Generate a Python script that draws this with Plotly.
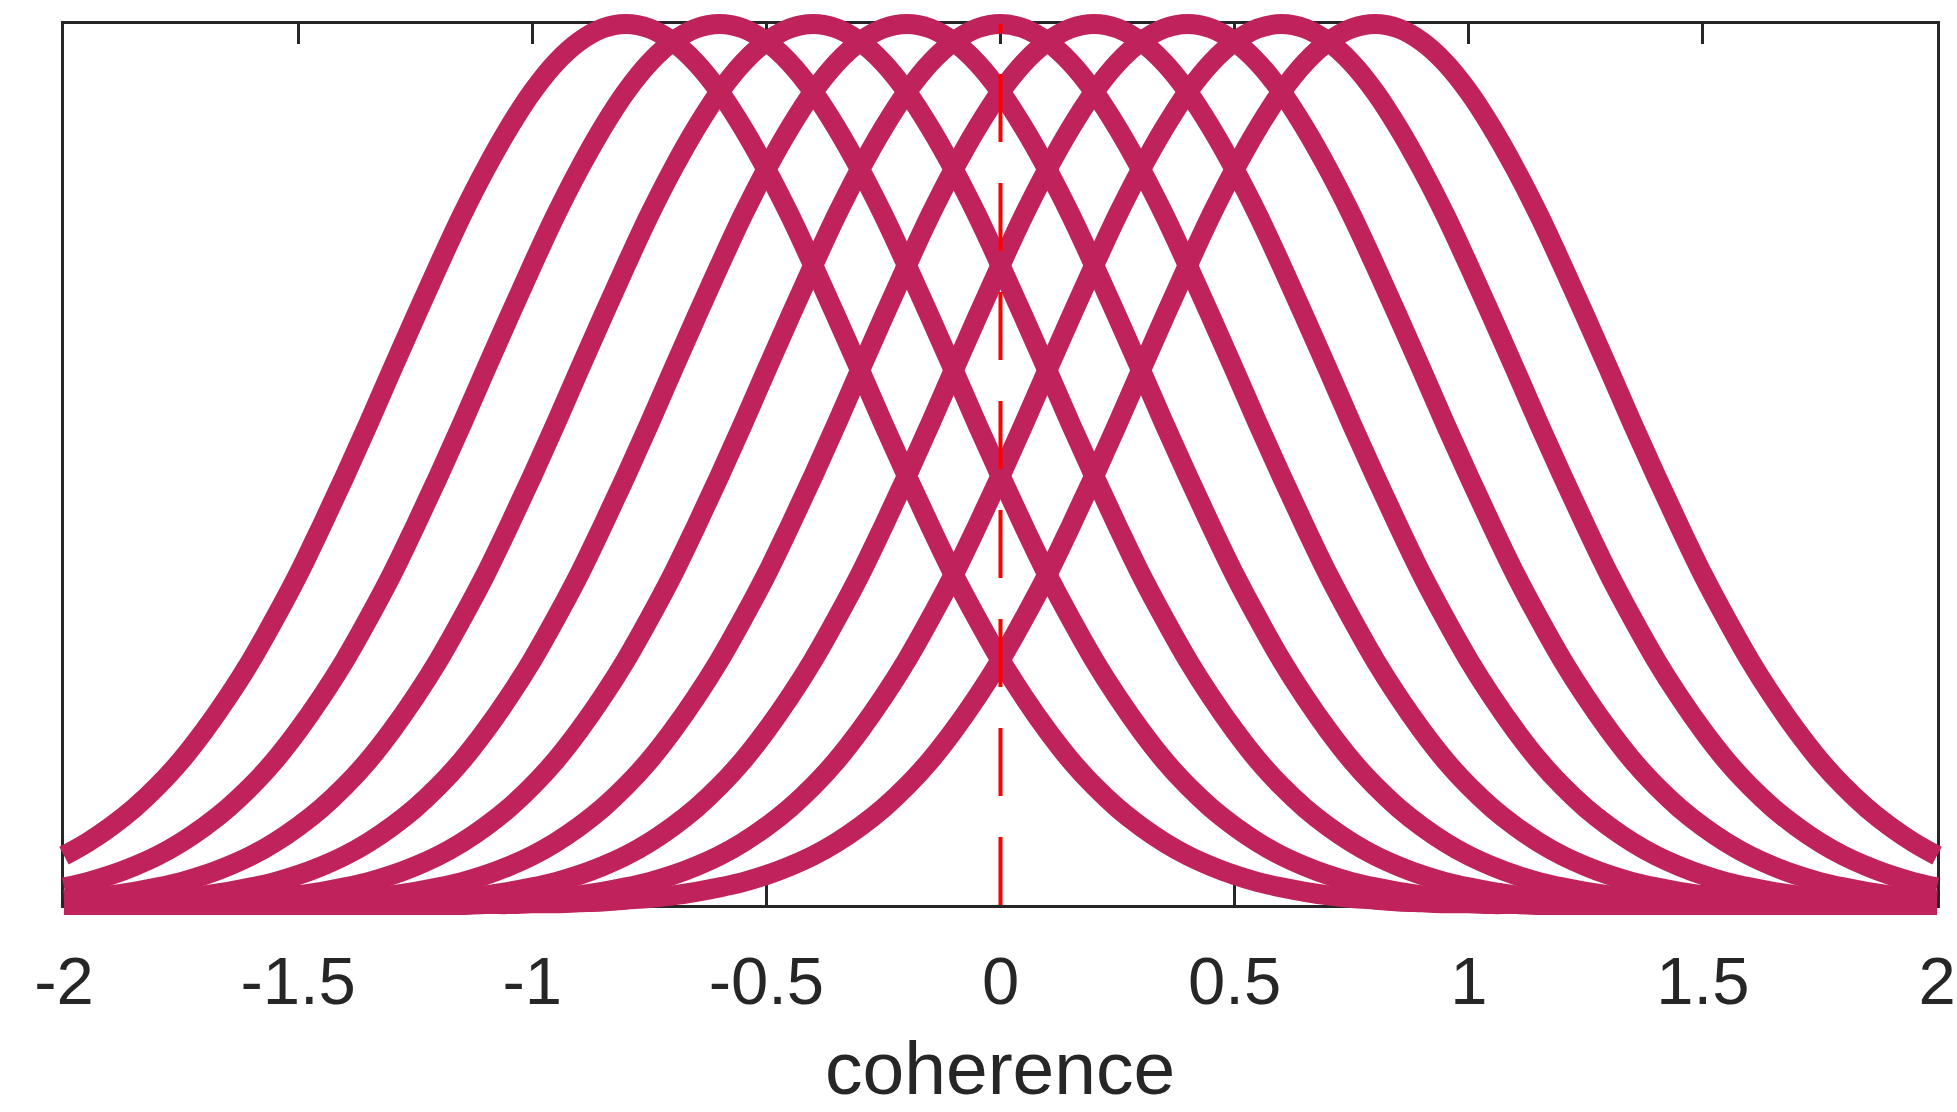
import plotly.graph_objects as go

# ---------------- data ----------------
# preferred coherence (peak position) of each tuning curve
curve_centers = [-0.8, -0.6, -0.4, -0.2, 0.0, 0.2, 0.4, 0.6, 0.8]

# shared tuning-curve profile: normalised response vs. distance from the peak
profile_offsets = [0.00, 0.05, 0.10, 0.15, 0.20, 0.25, 0.30, 0.35, 0.40, 0.45,
                   0.50, 0.55, 0.60, 0.65, 0.70, 0.75, 0.80, 0.85, 0.90, 0.95,
                   1.00, 1.05, 1.10, 1.15, 1.20, 1.25, 1.30, 1.35, 1.40, 1.45,
                   1.50, 1.55, 1.60, 1.65, 1.70, 1.75, 1.80, 1.85, 1.90, 1.95,
                   2.00, 2.10, 2.20, 2.30, 2.40, 2.50, 2.60, 2.70, 2.80]
profile_values = [1.000, 0.995, 0.980, 0.956, 0.923, 0.882, 0.835, 0.783, 0.726, 0.667,
                  0.607, 0.546, 0.487, 0.430, 0.375, 0.325, 0.278, 0.236, 0.198, 0.164,
                  0.135, 0.110, 0.089, 0.071, 0.056, 0.044, 0.034, 0.026, 0.020, 0.015,
                  0.011, 0.008, 0.006, 0.004, 0.003, 0.002, 0.002, 0.001, 0.001, 0.000,
                  0.000, 0.000, 0.000, 0.000, 0.000, 0.000, 0.000, 0.000, 0.000]

# reference (decision boundary) line
ref_x = 0.0

# axis ticks
x_tickvals = [-2, -1.5, -1, -0.5, 0, 0.5, 1, 1.5, 2]
x_ticktext = ["-2", "-1.5", "-1", "-0.5", "0", "0.5", "1", "1.5", "2"]
x_title = "coherence"

# ---------------- style / geometry ----------------
W, H = 1957, 1112
AX_L, AX_R, AX_T, AX_B = 64, 1937, 24, 905      # axes box in figure px
TITLE_Y = 1068                                   # vertical centre of the x title
PAD = 16                                         # extra room so thick lines are not clipped
X_RANGE = [-2, 2]
Y_RANGE = [0, 1]
CURVE_COLOR = "rgb(192,35,91)"
AX_COLOR = "#262626"
FONT = "Liberation Sans, Arial, Helvetica, sans-serif"

px_x = (AX_R - AX_L) / (X_RANGE[1] - X_RANGE[0])
px_y = (AX_B - AX_T) / (Y_RANGE[1] - Y_RANGE[0])

# overlay subplot (for the curves) with slightly larger domain, same data mapping
L2, R2, T2, B2 = max(0, AX_L - PAD), min(W, AX_R + PAD), max(0, AX_T - PAD), AX_B + PAD
x2_range = [X_RANGE[0] - (AX_L - L2) / px_x, X_RANGE[1] + (R2 - AX_R) / px_x]
y2_range = [Y_RANGE[0] - (B2 - AX_B) / px_y, Y_RANGE[1] + (AX_T - T2) / px_y]

fig = go.Figure()

# invisible anchor trace so the framed main axes are drawn
fig.add_trace(go.Scatter(x=[X_RANGE[0]], y=[Y_RANGE[0]], mode="markers",
                         marker=dict(opacity=0), showlegend=False, hoverinfo="skip"))

# symmetric profile
sym_off = [-o for o in reversed(profile_offsets[1:])] + profile_offsets
sym_val = list(reversed(profile_values[1:])) + profile_values

for c in curve_centers:
    xs, ys = [], []
    for o, v in zip(sym_off, sym_val):
        xv = round(c + o, 3)
        if X_RANGE[0] <= xv <= X_RANGE[1]:
            xs.append(xv)
            ys.append(v)
    fig.add_trace(go.Scatter(
        x=xs, y=ys, mode="lines", xaxis="x2", yaxis="y2",
        line=dict(color=CURVE_COLOR, width=20, shape="spline", smoothing=1.0, simplify=False),
        showlegend=False, hoverinfo="skip"))

fig.add_trace(go.Scatter(
    x=[ref_x, ref_x], y=[Y_RANGE[0], Y_RANGE[1]], mode="lines", xaxis="x2", yaxis="y2",
    line=dict(color="#ff0000", width=4, dash="68px,41px"),
    showlegend=False, hoverinfo="skip"))

fig.add_annotation(
    text=x_title, xref="paper", yref="paper",
    x=(AX_L + AX_R) / 2 / W, y=(H - TITLE_Y) / H,
    xanchor="center", yanchor="middle", showarrow=False,
    font=dict(size=75, family=FONT, color=AX_COLOR))

fig.update_layout(
    width=W, height=H,
    margin=dict(l=0, r=0, t=0, b=0, autoexpand=False),
    paper_bgcolor="white", plot_bgcolor="rgba(0,0,0,0)",
    font=dict(family=FONT, color=AX_COLOR),
    showlegend=False,
    xaxis=dict(
        domain=[AX_L / W, AX_R / W], range=X_RANGE,
        tickvals=x_tickvals, ticktext=x_ticktext,
        ticks="inside", ticklen=20, tickwidth=2.5, tickcolor=AX_COLOR,
        showline=True, linewidth=3, linecolor=AX_COLOR, mirror="ticks",
        showgrid=False, zeroline=False,
        tickfont=dict(size=67, family=FONT, color=AX_COLOR),
        ticklabelstandoff=16, ticklabeloverflow="allow",
        automargin=False, layer="below traces",
    ),
    yaxis=dict(
        domain=[(H - AX_B) / H, (H - AX_T) / H], range=Y_RANGE,
        showticklabels=False, ticks="",
        showline=True, linewidth=3, linecolor=AX_COLOR, mirror=True,
        showgrid=False, zeroline=False, automargin=False, layer="below traces",
    ),
    xaxis2=dict(
        domain=[L2 / W, R2 / W], range=x2_range, anchor="y2",
        visible=False, showgrid=False, zeroline=False,
    ),
    yaxis2=dict(
        domain=[(H - B2) / H, (H - T2) / H], range=y2_range, anchor="x2",
        visible=False, showgrid=False, zeroline=False,
    ),
)

fig.write_html(
    "out.html",
    config={"displayModeBar": False},
    post_script="document.body.style.margin='0';"
                "document.documentElement.style.overflow='hidden';"
                "document.body.style.overflow='hidden';",
)
